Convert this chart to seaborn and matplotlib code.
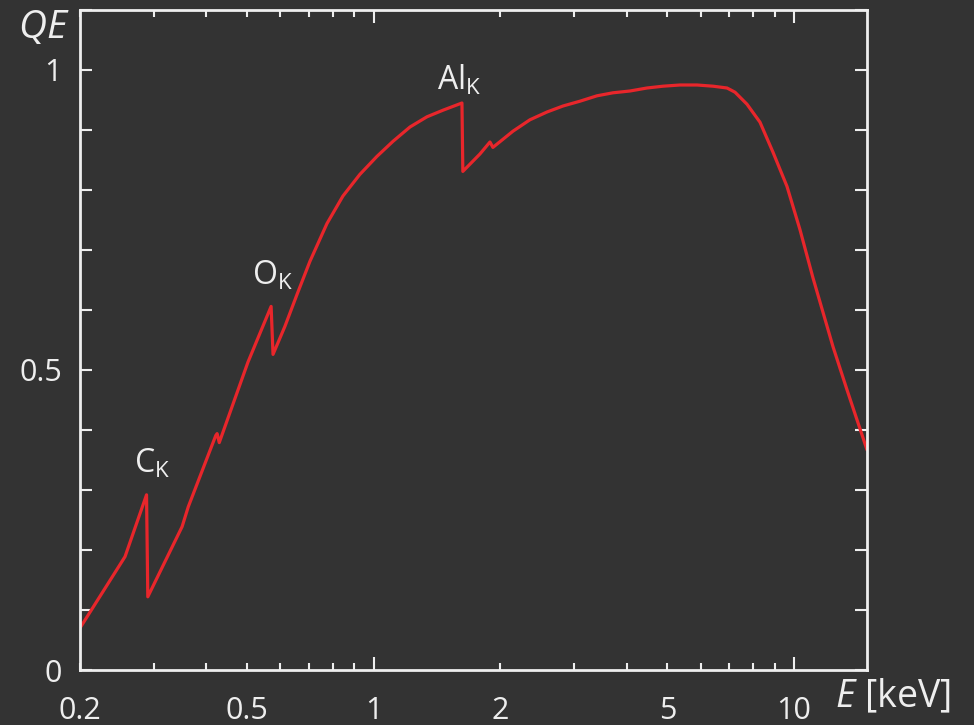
import matplotlib
matplotlib.use("Agg")
import matplotlib.pyplot as plt
from matplotlib.ticker import FixedLocator, FuncFormatter, MultipleLocator
import pandas as pd
import seaborn as sns

# Quantum efficiency of the detector versus photon energy (keV)
energy_kev = [0.200, 0.256, 0.288, 0.290, 0.350, 0.362, 0.421, 0.424, 0.429, 0.502,
              0.570, 0.576, 0.615, 0.657, 0.705, 0.774, 0.845, 0.927, 1.018, 1.111,
              1.220, 1.339, 1.462, 1.622, 1.630, 1.790, 1.891, 1.922, 2.145, 2.354,
              2.585, 2.822, 3.097, 3.400, 3.711, 4.073, 4.471, 4.881, 5.357, 5.882,
              6.421, 6.933, 7.243, 7.734, 8.306, 8.919, 9.630, 10.34, 11.10, 12.39,
              13.38, 14.93]
qe = [0.070, 0.189, 0.292, 0.122, 0.239, 0.272, 0.391, 0.394, 0.379, 0.513,
      0.606, 0.526, 0.573, 0.626, 0.681, 0.744, 0.790, 0.826, 0.856, 0.881,
      0.905, 0.922, 0.933, 0.945, 0.831, 0.860, 0.880, 0.871, 0.898, 0.917,
      0.930, 0.940, 0.948, 0.957, 0.962, 0.965, 0.970, 0.973, 0.975, 0.975,
      0.973, 0.970, 0.963, 0.943, 0.913, 0.863, 0.806, 0.734, 0.654, 0.539,
      0.467, 0.367]

# Absorption-edge labels and their anchor points (energy, QE at baseline)
edge_labels = ["C", "O", "Al"]
edge_label_x = [0.269, 0.512, 1.412]
edge_label_y = [0.329, 0.643, 0.968]

x_labels = {0.2: "0.2", 0.5: "0.5", 1: "1", 2: "2", 5: "5", 10: "10"}
y_major = [0, 0.5, 1]

BG = "#333333"
FG = "#eeeeee"
RED = "#e8262b"

sns.set_style("ticks")
plt.rcParams.update({
    "font.family": ["Open Sans", "DejaVu Sans"],
    "mathtext.fontset": "custom",
    "mathtext.rm": "Open Sans",
    "mathtext.it": "Open Sans:italic",
    "axes.facecolor": BG,
    "figure.facecolor": BG,
    "text.color": FG,
    "xtick.color": FG,
    "ytick.color": FG,
    "axes.edgecolor": FG,
})

fig = plt.figure(figsize=(9.74, 7.25), dpi=100)
ax = fig.add_axes([80 / 974, 1 - 670 / 725, (867 - 80) / 974, (670 - 10) / 725])

df = pd.DataFrame({"E": energy_kev, "QE": qe})
sns.lineplot(data=df, x="E", y="QE", ax=ax, color=RED, linewidth=2.3,
             sort=False, estimator=None)

ax.set_xscale("log")
ax.set_xlim(0.2, 14.93)
ax.set_ylim(0, 1.1)

# x ticks: long marks at decades, short marks elsewhere
ax.xaxis.set_major_locator(FixedLocator([1, 10]))
ax.xaxis.set_minor_locator(FixedLocator(
    [0.2, 0.3, 0.4, 0.5, 0.6, 0.7, 0.8, 0.9, 2, 3, 4, 5, 6, 7, 8, 9]))
fmt = FuncFormatter(lambda v, p: x_labels.get(round(v, 3), ""))
ax.xaxis.set_major_formatter(fmt)
ax.xaxis.set_minor_formatter(fmt)

ax.yaxis.set_major_locator(FixedLocator(y_major))
ax.yaxis.set_minor_locator(MultipleLocator(0.1))
ax.yaxis.set_major_formatter(FuncFormatter(lambda v, p: f"{v:g}"))

for side in ax.spines.values():
    side.set_linewidth(2.0)
    side.set_color(FG)

ax.tick_params(axis="both", which="both", direction="in", top=True, right=True,
               width=1.5, labelsize=22, labelcolor=FG)
ax.tick_params(axis="x", which="major", length=9.5, pad=19)
ax.tick_params(axis="x", which="minor", length=4.8, pad=19)
ax.tick_params(axis="y", which="both", length=8.6, pad=13)

ax.set_xlabel("")
ax.set_ylabel("")

for name, ex, ey in zip(edge_labels, edge_label_x, edge_label_y):
    ax.text(ex, ey, f"{name}$_\\mathrm{{K}}$", fontsize=23, color=FG,
            ha="left", va="baseline")

fig.text(70 / 974, 1 - 38 / 725, "$QE$", fontsize=28, color=FG,
         ha="right", va="baseline")
fig.text(835 / 974, 1 - 707 / 725, "$E$ [keV]", fontsize=27, color=FG,
         ha="left", va="baseline")

fig.savefig("out.png", dpi=100, facecolor=BG)
